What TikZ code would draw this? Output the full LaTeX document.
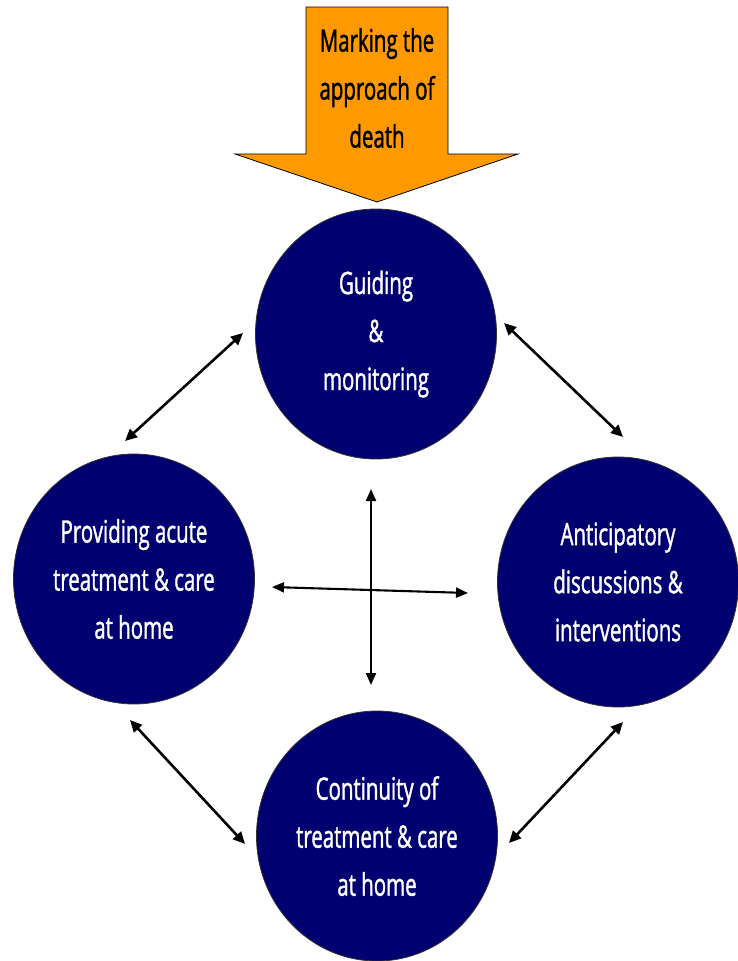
\documentclass[tikz,border=0pt]{standalone}
\usepackage{fontspec}
\setmainfont[FakeStretch=0.66,FakeBold=1.2]{Open Sans}
\usetikzlibrary{arrows.meta,shapes.geometric}
\definecolor{navy}{RGB}{0,0,112}
\definecolor{orangebox}{RGB}{255,153,0}
\tikzset{
  bubble/.style={ellipse, draw=black!80, line width=0.8pt, fill=navy, text=white,
    minimum width=241pt, minimum height=250pt, inner sep=0pt, align=center,
    font=\fontsize{31}{48}\selectfont},
  link/.style={line width=2.6pt, {Triangle[length=12pt,width=11pt]}-{Triangle[length=12pt,width=11pt]}},
  cross/.style={line width=2.1pt, {Triangle[length=12pt,width=10pt]}-{Triangle[length=12pt,width=10pt]}}
}
\begin{document}
\begin{tikzpicture}[x=1pt,y=-1pt]
\useasboundingbox (0,0) rectangle (737,961);
% orange arrow
\draw[fill=orangebox, draw=black, line width=0.8pt]
  (306,7) -- (448,7) -- (448,154) -- (518,154) -- (377,202) -- (235,154) -- (306,154) -- cycle;
\node[align=center, font=\fontsize{31}{48}\selectfont, text=black] (mark) at (377,88)
  {Marking the\\approach of\\death};
% circles
\node[bubble] (top) at (376,334) {Guiding\\\&\\monitoring};
\node[bubble] (left) at (134,579) {Providing acute\\treatment \& care\\at home};
\node[bubble] (right) at (618,582) {Anticipatory\\discussions \&\\ interventions};
\node[bubble] (bottom) at (377,836) {Continuity of\\treatment \& care\\at home};
% arrow end coordinates
\coordinate (tl1) at (243,333);
\coordinate (tl2) at (125,441);
\coordinate (tr1) at (504,323);
\coordinate (tr2) at (623,437);
\coordinate (bl1) at (130,720);
\coordinate (bl2) at (245,844);
\coordinate (br1) at (623,722);
\coordinate (br2) at (509,843);
\coordinate (h1) at (272,587);
\coordinate (h2) at (468,593);
\coordinate (v1) at (371,489);
\coordinate (v2) at (371,685);
\draw[link] (tl1) -- (tl2);
\draw[link] (tr1) -- (tr2);
\draw[link] (bl1) -- (bl2);
\draw[link] (br1) -- (br2);
\draw[cross] (h1) -- (h2);
\draw[cross] (v1) -- (v2);
\end{tikzpicture}
\end{document}
